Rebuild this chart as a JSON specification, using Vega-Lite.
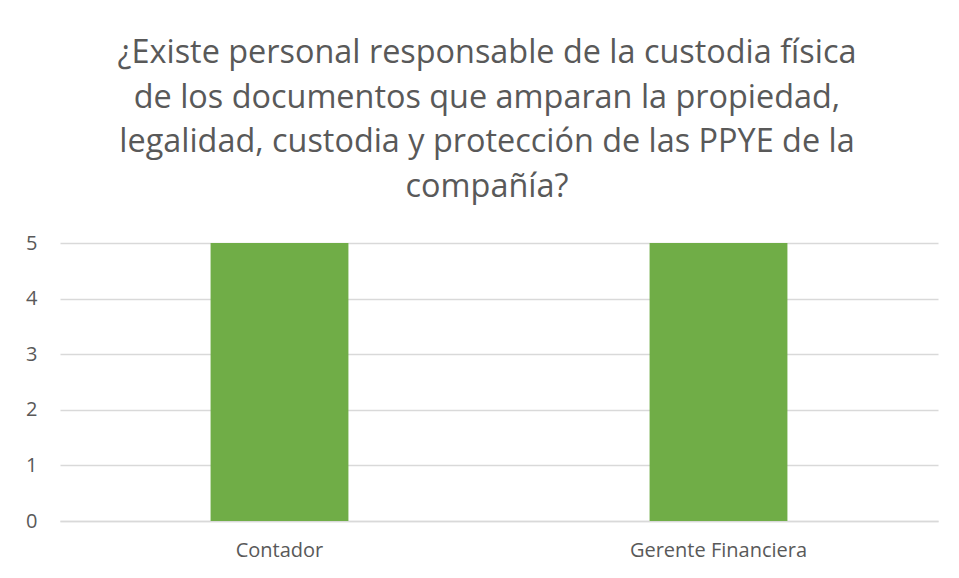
{
  "$schema": "https://vega.github.io/schema/vega-lite/v6.json",
  "width": 878,
  "height": 278,
  "autosize": {"type": "none"},
  "padding": {"left": 60, "top": 243, "right": 21, "bottom": 57},
  "background": "white",
  "title": {
    "text": ["¿Existe personal responsable de la custodia física", "de los documentos que amparan la propiedad,", "legalidad, custodia y protección de las PPYE de la", "compañía?"],
    "font": "Open Sans",
    "fontSize": 32.4,
    "fontWeight": "normal",
    "color": "#595959",
    "lineHeight": 44.5,
    "anchor": "middle",
    "dx": -12,
    "offset": 30
  },
  "data": {
    "values": [
      {"cargo": "Contador", "valor": 5},
      {"cargo": "Gerente Financiera", "valor": 5}
    ]
  },
  "mark": {"type": "bar", "color": "#70ad47"},
  "encoding": {
    "x": {
      "field": "cargo",
      "type": "nominal",
      "sort": null,
      "title": null,
      "scale": {"paddingInner": 0.686, "paddingOuter": 0.343},
      "axis": {"labelAngle": 0, "domain": true, "domainColor": "#d9d9d9", "domainWidth": 1.5, "ticks": false, "labelPadding": 19, "labelFont": "Open Sans", "labelFontSize": 20, "labelColor": "#595959"}
    },
    "y": {
      "field": "valor",
      "type": "quantitative",
      "title": null,
      "scale": {"domain": [0, 5]},
      "axis": {"values": [0, 1, 2, 3, 4, 5], "domain": false, "ticks": false, "labelPadding": 23, "labelFont": "Open Sans", "labelFontSize": 20, "labelColor": "#595959", "gridColor": "#d9d9d9", "gridWidth": 1.5}
    }
  },
  "config": {"view": {"stroke": null}}
}
